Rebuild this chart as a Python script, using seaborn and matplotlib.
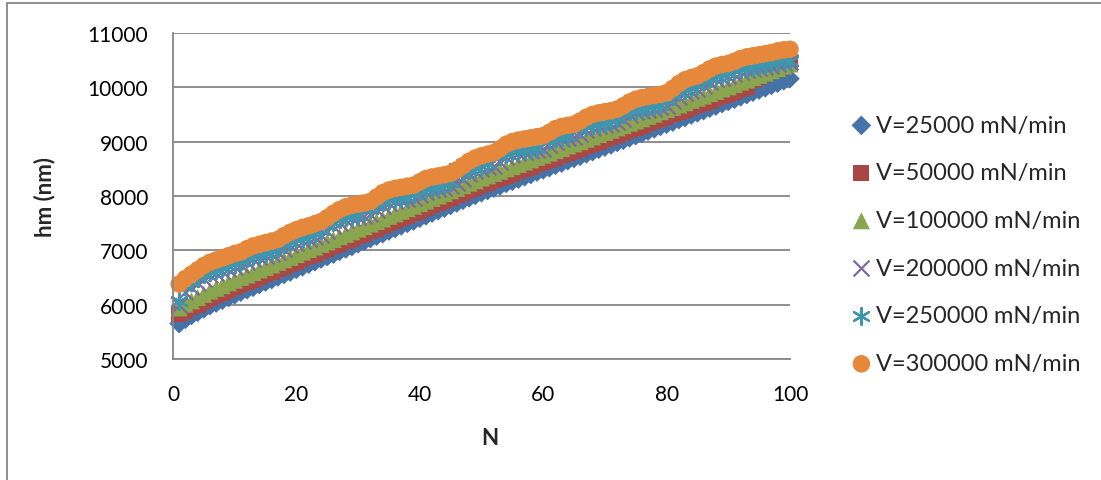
import pandas as pd
import seaborn as sns
import matplotlib.pyplot as plt
from matplotlib.patches import Rectangle

# Données : hm (nm) en fonction du nombre de cycles N
n_cycles = list(range(1, 101))

hm_25000 = [5650, 5730, 5800, 5860, 5920, 5980, 6030, 6080, 6130, 6180,
            6230, 6275, 6320, 6370, 6415, 6460, 6510, 6555, 6600, 6650,
            6695, 6745, 6790, 6840, 6885, 6930, 6980, 7025, 7070, 7120,
            7165, 7215, 7260, 7305, 7355, 7400, 7450, 7495, 7540, 7590,
            7635, 7685, 7730, 7775, 7825, 7870, 7920, 7965, 8010, 8060,
            8100, 8145, 8185, 8230, 8270, 8310, 8355, 8395, 8440, 8480,
            8520, 8565, 8605, 8650, 8690, 8730, 8775, 8815, 8860, 8900,
            8940, 8985, 9025, 9070, 9110, 9150, 9195, 9235, 9280, 9320,
            9360, 9405, 9445, 9490, 9530, 9570, 9615, 9655, 9700, 9740,
            9780, 9825, 9865, 9910, 9950, 9990, 10035, 10075, 10120, 10160]

hm_50000 = [5830, 5890, 5950, 6000, 6060, 6120, 6170, 6220, 6270, 6320,
            6370, 6415, 6460, 6510, 6555, 6600, 6650, 6695, 6740, 6790,
            6835, 6885, 6930, 6980, 7025, 7070, 7120, 7165, 7210, 7260,
            7305, 7355, 7400, 7445, 7495, 7540, 7590, 7635, 7680, 7730,
            7775, 7825, 7870, 7915, 7965, 8010, 8060, 8105, 8150, 8200,
            8240, 8285, 8325, 8370, 8410, 8450, 8495, 8535, 8580, 8620,
            8660, 8705, 8745, 8790, 8830, 8870, 8915, 8955, 9000, 9040,
            9080, 9125, 9165, 9210, 9250, 9290, 9335, 9375, 9420, 9460,
            9500, 9545, 9585, 9630, 9670, 9710, 9755, 9795, 9840, 9880,
            9920, 9965, 10005, 10140, 10190, 10240, 10290, 10330, 10380, 10440]

hm_100000 = [5940, 6010, 6070, 6130, 6190, 6250, 6300, 6350, 6400, 6450,
             6500, 6545, 6590, 6640, 6685, 6730, 6780, 6825, 6870, 6920,
             6965, 7015, 7060, 7110, 7155, 7200, 7250, 7295, 7340, 7390,
             7435, 7485, 7530, 7575, 7625, 7670, 7720, 7765, 7810, 7860,
             7905, 7955, 8000, 8045, 8095, 8140, 8190, 8235, 8280, 8330,
             8370, 8415, 8455, 8500, 8540, 8580, 8625, 8665, 8710, 8750,
             8790, 8835, 8875, 8920, 8960, 9000, 9045, 9085, 9130, 9170,
             9210, 9255, 9295, 9340, 9380, 9420, 9465, 9505, 9550, 9590,
             9630, 9675, 9715, 9760, 9800, 9840, 9885, 9925, 9970, 10010,
             10050, 10095, 10135, 10180, 10220, 10260, 10305, 10345, 10390, 10430]

hm_200000 = [6000, 6240, 6320, 6400, 6480, 6540, 6580, 6620, 6660, 6700,
             6730, 6790, 6840, 6870, 6900, 6930, 6960, 7030, 7090, 7140,
             7180, 7210, 7250, 7290, 7360, 7440, 7510, 7560, 7590, 7610,
             7630, 7660, 7740, 7820, 7870, 7900, 7920, 7940, 7960, 8020,
             8080, 8110, 8130, 8150, 8180, 8240, 8320, 8400, 8460, 8500,
             8530, 8560, 8630, 8710, 8760, 8790, 8810, 8830, 8850, 8870,
             8930, 9000, 9040, 9060, 9080, 9140, 9210, 9260, 9290, 9310,
             9330, 9360, 9420, 9490, 9540, 9570, 9590, 9610, 9630, 9660,
             9740, 9830, 9900, 9940, 9970, 10030, 10100, 10150, 10180, 10200,
             10240, 10290, 10320, 10340, 10360, 10380, 10400, 10430, 10450, 10460]

hm_250000 = [6060, 6340, 6420, 6500, 6560, 6600, 6640, 6680, 6720, 6750,
             6810, 6860, 6890, 6920, 6950, 6980, 7050, 7110, 7160, 7200,
             7230, 7270, 7310, 7380, 7460, 7530, 7580, 7610, 7630, 7650,
             7860, 7760, 7840, 7890, 7920, 7940, 7960, 7980, 8040, 8100,
             8130, 8150, 8170, 8200, 8260, 8520, 8420, 8480, 8520, 8550,
             8580, 8800, 8730, 8780, 8810, 8830, 8850, 8870, 8890, 9100,
             9020, 9060, 9080, 9100, 9310, 9230, 9280, 9310, 9330, 9350,
             9380, 9440, 9510, 9560, 9590, 9610, 9630, 9650, 9680, 9760,
             9850, 9920, 9960, 9990, 10050, 10120, 10170, 10200, 10220, 10260,
             10310, 10340, 10360, 10380, 10400, 10420, 10450, 10470, 10480, 10490]

hm_300000 = [6380, 6480, 6560, 6640, 6720, 6780, 6820, 6860, 6900, 6940,
             6970, 7030, 7080, 7110, 7140, 7170, 7200, 7270, 7330, 7380,
             7420, 7450, 7490, 7530, 7600, 7680, 7750, 7800, 7830, 7850,
             7870, 7900, 7980, 8060, 8110, 8140, 8160, 8180, 8200, 8260,
             8320, 8350, 8370, 8390, 8420, 8480, 8560, 8640, 8700, 8740,
             8770, 8800, 8870, 8950, 9000, 9030, 9050, 9070, 9090, 9110,
             9170, 9240, 9280, 9300, 9320, 9380, 9450, 9500, 9530, 9550,
             9570, 9600, 9660, 9730, 9780, 9810, 9830, 9850, 9870, 9900,
             9980, 10070, 10140, 10180, 10210, 10270, 10340, 10390, 10420, 10440,
             10480, 10530, 10560, 10580, 10600, 10620, 10640, 10670, 10690, 10700]

series_labels = ["V=25000 mN/min", "V=50000 mN/min", "V=100000 mN/min",
                 "V=200000 mN/min", "V=250000 mN/min", "V=300000 mN/min"]
series_values = [hm_25000, hm_50000, hm_100000, hm_200000, hm_250000, hm_300000]

# Tableau long pour seaborn
frames = []
for lab, vals in zip(series_labels, series_values):
    frames.append(pd.DataFrame({"N": n_cycles, "hm": vals, "serie": lab}))
data = pd.concat(frames, ignore_index=True)

# Style des marqueurs (façon Excel)
colors = ["#4572A7", "#AA4643", "#89A54E", "#80699B", "#3D96AE", "#E5883C"]
markers = ["D", "s", "^", "x", (6, 2, 0), "o"]
sizes = [100, 130, 150, 130, 150, 160]

sns.set_style("white")
plt.rcParams["font.family"] = ["Lato", "DejaVu Sans"]

fig, ax = plt.subplots(figsize=(11.01, 4.81), dpi=100)
fig.subplots_adjust(left=0.1571, right=0.7175, top=0.9293, bottom=0.2516)

for lab, col, mk, sz in zip(series_labels, colors, markers, sizes):
    sub = data[data["serie"] == lab]
    if mk == "x" or isinstance(mk, tuple):
        sns.scatterplot(data=sub, x="N", y="hm", marker=mk, s=sz, color=col,
                        linewidth=1.6, label=lab, ax=ax, clip_on=False)
    else:
        sns.scatterplot(data=sub, x="N", y="hm", marker=mk, s=sz, color=col,
                        linewidth=0, edgecolor="none", label=lab, ax=ax, clip_on=False)

# Axes et grille
grey = "#868686"
ax.set_xlim(0, 100)
ax.set_ylim(5000, 11000)
ax.set_xticks(range(0, 101, 20))
ax.set_yticks(range(5000, 11001, 1000))
ax.yaxis.grid(True, color=grey, linewidth=1.3)
ax.xaxis.grid(False)
ax.set_axisbelow(True)
for side in ["top", "right"]:
    ax.spines[side].set_visible(False)
for side in ["left", "bottom"]:
    ax.spines[side].set_color(grey)
    ax.spines[side].set_linewidth(1.3)
ax.tick_params(axis="both", direction="out", length=4, width=1.3, color=grey,
               labelsize=15, labelcolor="black")
ax.tick_params(axis="y", pad=14)
ax.tick_params(axis="x", pad=14)

ax.set_xlabel("N", fontsize=16, fontweight="bold")
ax.set_ylabel("hm (nm)", fontsize=16, fontweight="bold")
ax.yaxis.set_label_coords(-0.191, 0.5)
ax.xaxis.set_label_coords(0.514, -0.209)

ax.legend(loc="center left", bbox_to_anchor=(0.762, 0.49), bbox_transform=fig.transFigure,
          frameon=False, fontsize=17, labelspacing=1.13, handlelength=0.9,
          handletextpad=0.15, borderpad=0, scatterpoints=1)

# Cadre du graphique
fig.add_artist(Rectangle((7 / 1101, -0.1), 1.2, 1.0917, transform=fig.transFigure,
                         fill=False, edgecolor=grey, linewidth=1.3))

fig.savefig("out.png", dpi=100)
